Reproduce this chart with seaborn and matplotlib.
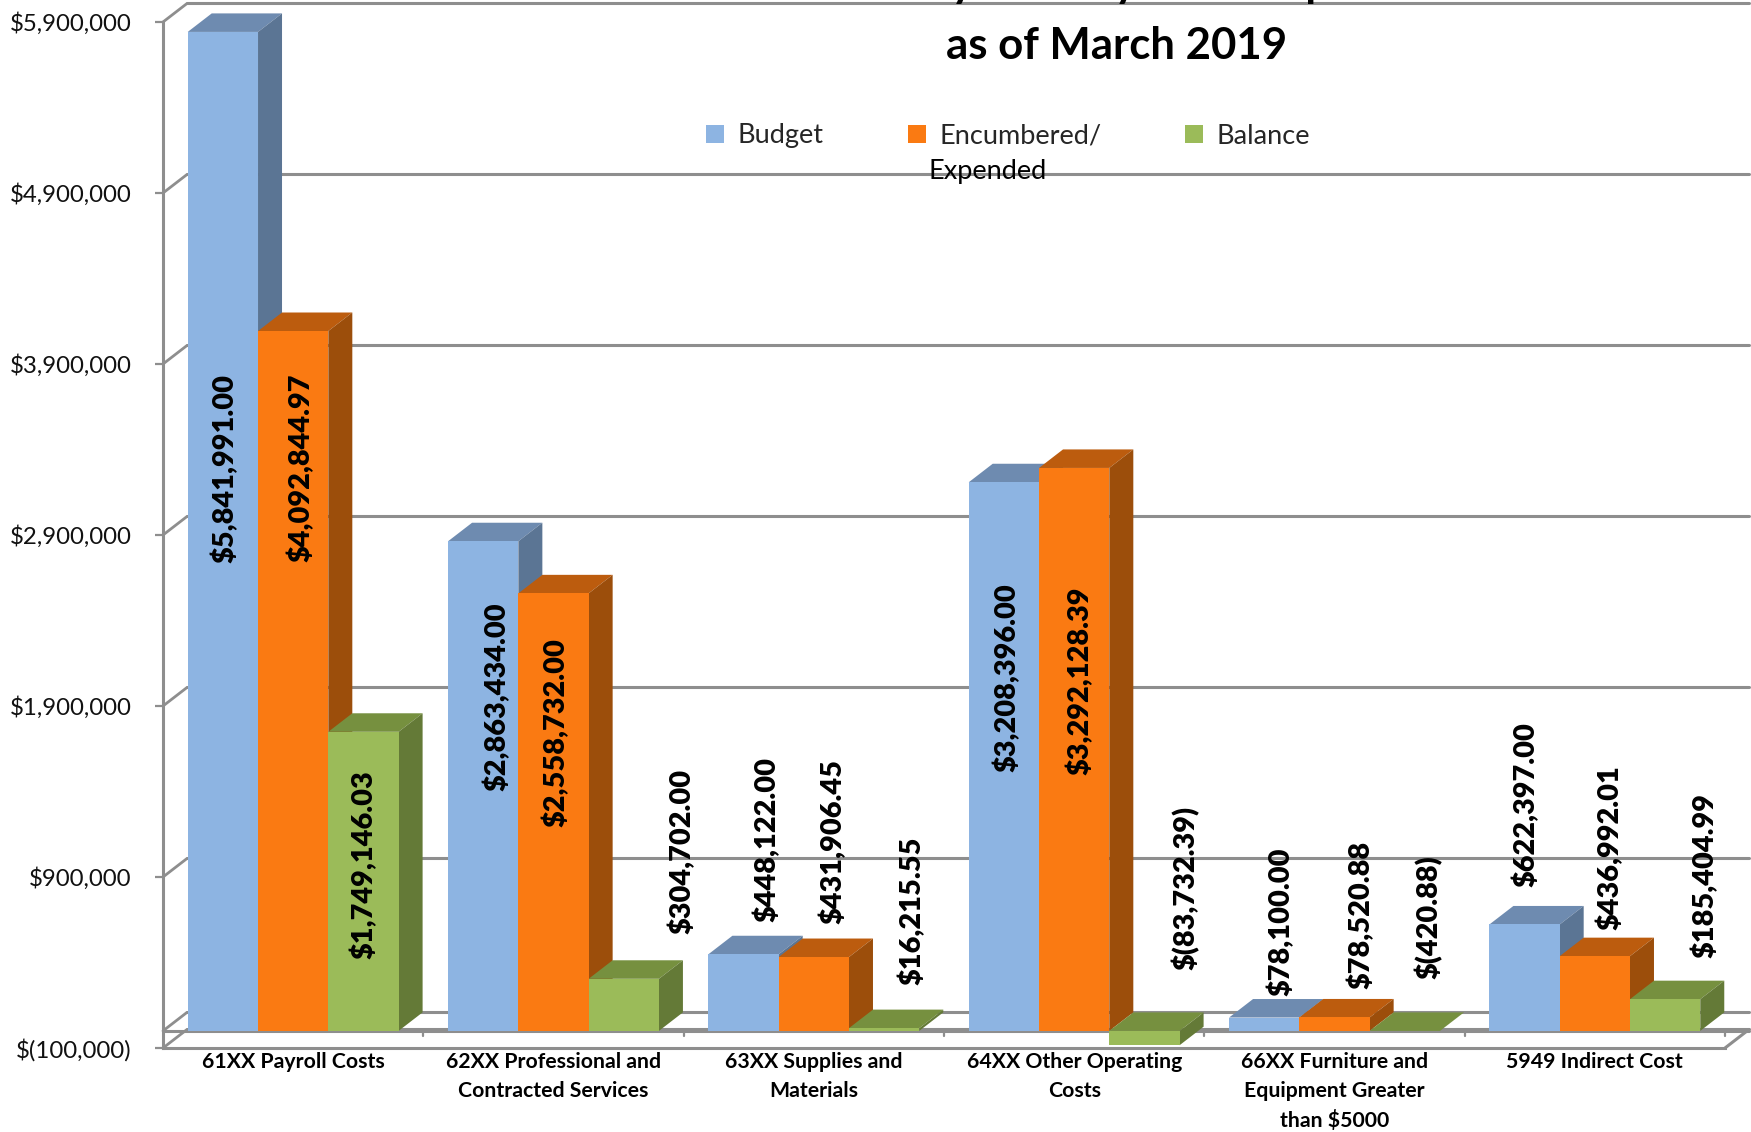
import matplotlib
matplotlib.use("Agg")
import matplotlib.pyplot as plt
import pandas as pd
import seaborn as sns
from matplotlib.patches import Polygon


# ----------------------------------
# Data
# ----------------------------------

categories = [
    "61XX Payroll Costs",
    "62XX Professional and\nContracted Services",
    "63XX Supplies and\nMaterials",
    "64XX Other Operating\nCosts",
    "66XX Furniture and\nEquipment Greater\nthan $5000",
    "5949 Indirect Cost",
]

budget = [5841991.00, 2863434.00, 448122.00, 3208396.00, 78100.00, 622397.00]
encumbered = [4092844.97, 2558732.00, 431906.45, 3292128.39, 78520.88, 436992.01]
balance = [1749146.03, 304702.00, 16215.55, -83732.39, -420.88, 185404.99]

series_names = ["Budget", "Encumbered/", "Balance"]

y_ticks = [-100000, 900000, 1900000, 2900000, 3900000, 4900000, 5900000]
y_tick_labels = [
    "$(100,000)", "$900,000", "$1,900,000", "$2,900,000",
    "$3,900,000", "$4,900,000", "$5,900,000",
]

# label centres in pixels, measured from the top left of the image
budget_label_px = [(225, 468), (497, 697), (767, 840), (1007, 678), (1281, 922), (1526, 805)]
encumbered_label_px = [(301, 468), (556, 733), (833, 842), (1080, 681), (1361, 915), (1610, 848)]
balance_label_px = [(364, 865), (682, 851), (912, 911), (1186, 888), (1429, 917), (1705, 876)]


# ----------------------------------
# Styles
# ----------------------------------

FRONT = ["#8DB4E2", "#FA7A12", "#9BBB59"]
TOP = ["#6E8BB0", "#BC5C0E", "#76903F"]
SIDE = ["#5B7594", "#9C4E0B", "#647A37"]
GRID = "#8E8E8E"

W, H = 1751, 1132
DEPTH_X = 24 / 260.33
DEPTH_Y = 18.5 / 170.83 * 1e6

sns.set_theme(style="white")
plt.rcParams["font.family"] = ["Lato", "DejaVu Sans"]


# ----------------------------------
# Bars
# ----------------------------------

df = pd.DataFrame({
    "category": categories * 3,
    "series": [s for s in series_names for _ in categories],
    "amount": budget + encumbered + balance,
})

fig = plt.figure(figsize=(W / 100, H / 100), dpi=100)
ax = fig.add_axes([163 / W, (H - 1048) / H, 1562 / W, 1026 / H])

sns.barplot(
    data=df,
    x="category",
    y="amount",
    hue="series",
    palette=FRONT,
    saturation=1,
    width=0.81,
    gap=0,
    legend=False,
    ax=ax,
)

ax.set_xlim(-0.5, 5.5)
ax.set_ylim(y_ticks[0], y_ticks[-1])
ax.set_xlabel("")
ax.set_ylabel("")

x0, x1 = ax.get_xlim()

# fake 3d: top and side faces come from each bar's own geometry
for k, container in enumerate(ax.containers):
    for bar in container.patches:
        left = bar.get_x()
        right = left + bar.get_width()
        upper = max(bar.get_y(), bar.get_y() + bar.get_height())
        lower = min(bar.get_y(), bar.get_y() + bar.get_height())
        ax.add_patch(Polygon(
            [(left, upper), (right, upper),
             (right + DEPTH_X, upper + DEPTH_Y), (left + DEPTH_X, upper + DEPTH_Y)],
            closed=True, facecolor=TOP[k], edgecolor="none", zorder=10, clip_on=False,
        ))
        ax.add_patch(Polygon(
            [(right, lower), (right + DEPTH_X, lower + DEPTH_Y),
             (right + DEPTH_X, upper + DEPTH_Y), (right, upper)],
            closed=True, facecolor=SIDE[k], edgecolor="none", zorder=10, clip_on=False,
        ))
        bar.set_zorder(11)
        bar.set_edgecolor("none")


# ----------------------------------
# Walls, floor and gridlines
# ----------------------------------

for tick in y_ticks:
    ax.plot([x0, x0 + DEPTH_X], [tick, tick + DEPTH_Y], color=GRID, lw=2.0, clip_on=False, zorder=1)
    ax.plot([x0 + DEPTH_X, x1 + DEPTH_X], [tick + DEPTH_Y, tick + DEPTH_Y],
            color=GRID, lw=2.2, clip_on=False, zorder=1)

ax.plot([x0, x0 + DEPTH_X], [0, DEPTH_Y], color=GRID, lw=2.0, clip_on=False, zorder=1)
ax.plot([x0 + DEPTH_X, x1 + DEPTH_X], [DEPTH_Y, DEPTH_Y], color=GRID, lw=2.2, clip_on=False, zorder=1)
ax.plot([x0, x1 + DEPTH_X], [0, 0], color=GRID, lw=2.2, clip_on=False, zorder=2)
ax.plot([x1, x1 + DEPTH_X], [y_ticks[0], y_ticks[0] + DEPTH_Y], color=GRID, lw=2.2, clip_on=False, zorder=2)

sns.despine(ax=ax, top=True, right=True)
ax.spines["left"].set_color(GRID)
ax.spines["left"].set_linewidth(2.2)
ax.spines["bottom"].set_color(GRID)
ax.spines["bottom"].set_linewidth(2.2)


# ----------------------------------
# Ticks
# ----------------------------------

ax.set_yticks(y_ticks)
ax.set_yticklabels(y_tick_labels, fontsize=17.3, color="#111111")
ax.tick_params(axis="y", length=6, width=1.6, color=GRID, pad=16.5, left=True)

ax.set_xticks(range(len(categories)))
ax.set_xticklabels(categories, fontsize=15.3, fontweight="bold", color="black", linespacing=1.55)
ax.tick_params(axis="x", length=0, pad=3)
for label in ax.get_xticklabels():
    label.set_verticalalignment("top")

for edge in range(1, len(categories) + 1):
    ax.plot([x0 + edge, x0 + edge], [0, -30000], color=GRID, lw=1.6, clip_on=False, zorder=2)


# ----------------------------------
# Value labels
# ----------------------------------

def money(value):
    if value < 0:
        return f"$({-value:,.2f})"
    return f"${value:,.2f}"


label_sets = [
    (budget, budget_label_px),
    (encumbered, encumbered_label_px),
    (balance, balance_label_px),
]
for values, positions in label_sets:
    for value, (px, py) in zip(values, positions):
        fig.text(px / W, 1 - py / H, money(value), rotation=90, ha="center", va="center",
                 fontsize=20.8, fontweight=800, color="black", zorder=30)


# ----------------------------------
# Title and legend
# ----------------------------------

# the first title line is cut by the top edge, as in the source image
fig.text(1117 / W, 1 - 59 / H, "as of March 2019", ha="center", va="baseline",
         fontsize=31.5, fontweight="bold", color="black")
fig.text(1130 / W, 1 + 3 / H, "Community Activity Fund Expenditures", ha="center", va="baseline",
         fontsize=31.5, fontweight="bold", color="black")

handles = [container.patches[0] for container in ax.containers]
legend = fig.legend(
    handles,
    series_names,
    ncols=3,
    loc="center left",
    bbox_to_anchor=(682 / W, 1 - 136 / H),
    frameon=False,
    fontsize=19.5,
    handlelength=0.66,
    handleheight=0.66,
    handletextpad=0.5,
    columnspacing=3.1,
)
fig.text(928 / W, 1 - 171 / H, "Expended", ha="left", va="center", fontsize=19.5, color="black", zorder=30)

plt.savefig("out.png", dpi=100)
